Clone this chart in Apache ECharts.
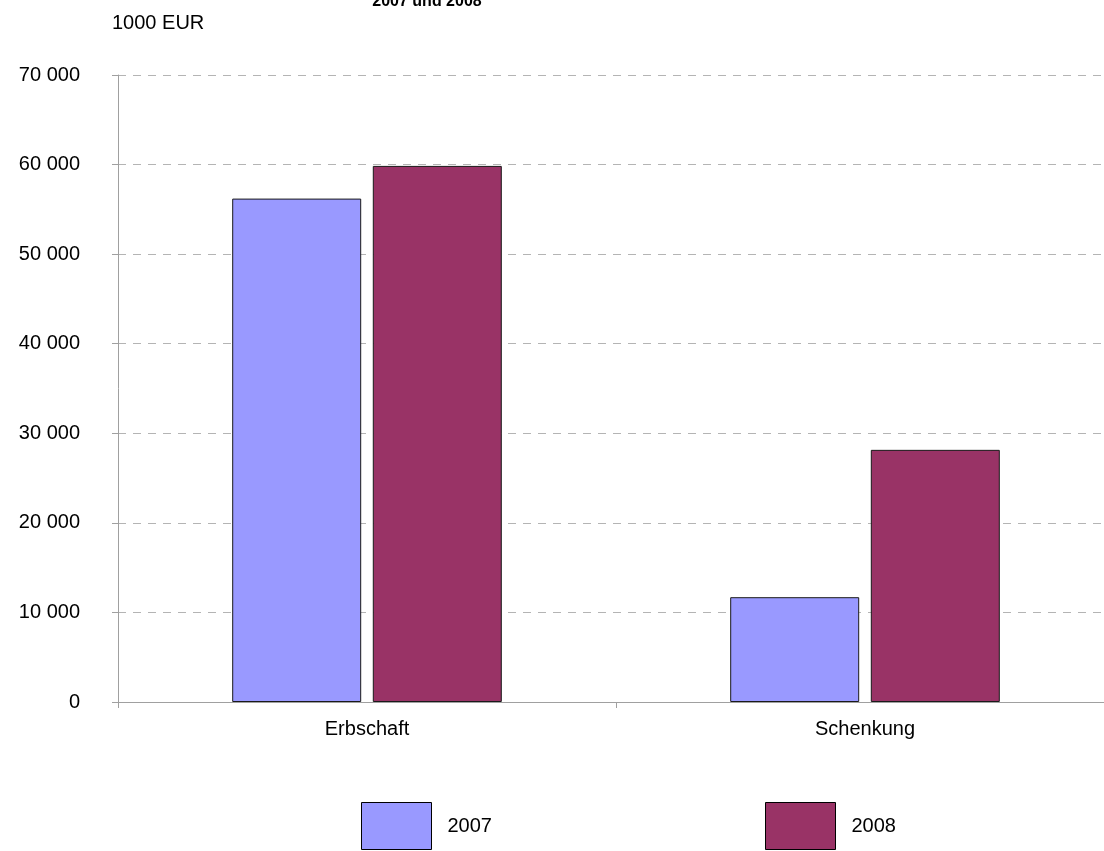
<!DOCTYPE html>
<html>
<head>
<meta charset="utf-8">
<script src="https://cdn.jsdelivr.net/npm/echarts@6/dist/echarts.min.js"></script>
<style>html,body{margin:0;padding:0;background:#fff;overflow:hidden}#c{width:1114px;height:851px}</style>
</head>
<body>
<div id="c"></div>
<script>
const categories = ['Erbschaft', 'Schenkung'];
const seriesNames = ['2007', '2008'];
const values2007 = [56200, 11700];
const values2008 = [59850, 28150];
const yTicks = [0, 10000, 20000, 30000, 40000, 50000, 60000, 70000];
const titleText = '2007 und 2008';
const unitText = '1000 EUR';

const FONT = '"Liberation Sans", Arial, sans-serif';
const chart = echarts.init(document.getElementById('c'), null, {renderer: 'canvas'});
const fmt = v => String(v).replace(/\B(?=(\d{3})+(?!\d))/g, ' ');

chart.setOption({
  animation: false,
  backgroundColor: '#fff',
  title: [
    {text: titleText, left: 427, textAlign: 'center', top: -6, padding: 0,
     textStyle: {fontFamily: FONT, fontSize: 16, fontWeight: 'bold', color: '#000'}},
    {text: unitText, left: 112, top: 13, padding: 0,
     textStyle: {fontFamily: FONT, fontSize: 20, fontWeight: 'normal', color: '#000'}}
  ],
  legend: [
    {data: [seriesNames[0]], left: 361, top: 802, padding: 0, itemWidth: 70, itemHeight: 47,
     icon: 'rect', itemStyle: {borderColor: '#000', borderWidth: 1},
     textStyle: {fontFamily: FONT, fontSize: 20, color: '#000', padding: [0,0,0,11]}},
    {data: [seriesNames[1]], left: 765, top: 802, padding: 0, itemWidth: 70, itemHeight: 47,
     icon: 'rect', itemStyle: {borderColor: '#000', borderWidth: 1},
     textStyle: {fontFamily: FONT, fontSize: 20, color: '#000', padding: [0,0,0,11]}}
  ],
  grid: {left: 118, top: 75, height: 627, width: 996, containLabel: false},
  xAxis: {
    type: 'category', data: categories,
    axisLine: {lineStyle: {color: '#a0a0a0', width: 1}},
    axisTick: {show: true, length: 6, lineStyle: {color: '#a0a0a0'}},
    axisLabel: {fontFamily: FONT, fontSize: 20, color: '#000', margin: 17}
  },
  yAxis: {
    type: 'value', min: 0, max: 70000, interval: 10000,
    axisLine: {show: true, lineStyle: {color: '#a0a0a0', width: 1}},
    axisTick: {show: true, length: 6, lineStyle: {color: '#a0a0a0'}},
    axisLabel: {fontFamily: FONT, fontSize: 20, color: '#000', margin: 38, formatter: fmt},
    splitLine: {show: true, lineStyle: {color: '#b4b4b4', type: [8, 7], width: 1}}
  },
  series: [
    {name: seriesNames[0], type: 'bar', data: values2007, barWidth: 129, barGap: '9%',
     itemStyle: {color: '#9999FF', borderColor: '#1a1a1a', borderWidth: 1}},
    {name: seriesNames[1], type: 'bar', data: values2008, barWidth: 129, barGap: '9%',
     itemStyle: {color: '#993366', borderColor: '#1a1a1a', borderWidth: 1}}
  ]
});
</script>
</body>
</html>
